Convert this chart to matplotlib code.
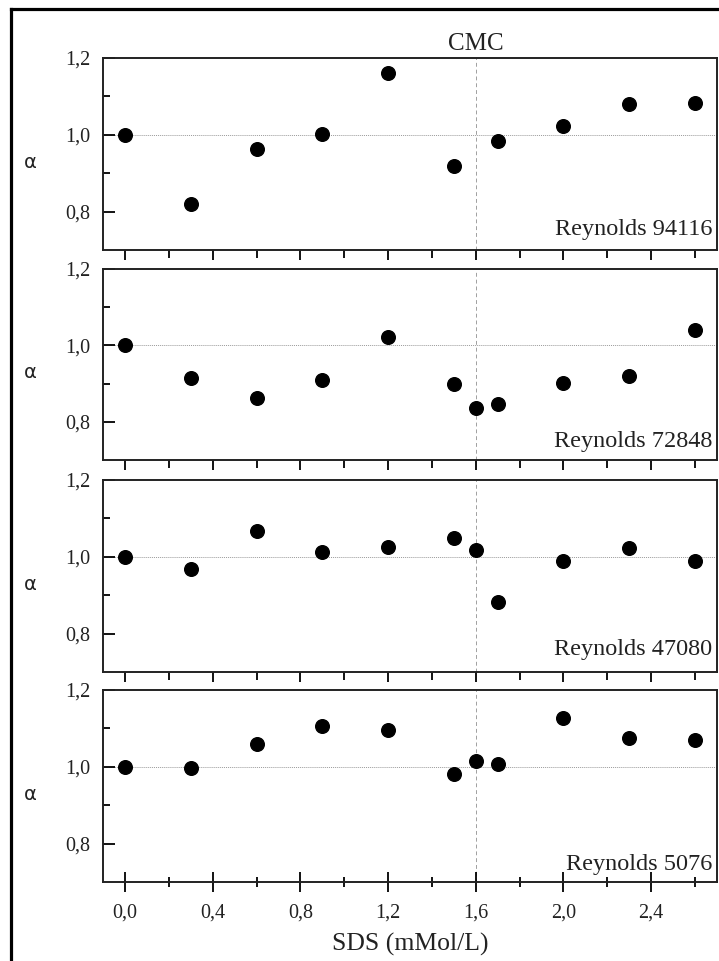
"""
Factor alfa frente a concentración de SDS, cuatro números de Reynolds
"""

import matplotlib.pyplot as plt
import numpy as np
from matplotlib.lines import Line2D

# concentraciones de SDS (mMol/L)
sds_a = [0.0, 0.3, 0.6, 0.9, 1.2, 1.5, 1.7, 2.0, 2.3, 2.6]
sds_b = [0.0, 0.3, 0.6, 0.9, 1.2, 1.5, 1.6, 1.7, 2.0, 2.3, 2.6]

# valores de alfa para cada Reynolds
alfa_94116 = [1.000, 0.821, 0.963, 1.002, 1.162, 0.919, 0.984, 1.024, 1.081, 1.084]
alfa_72848 = [1.000, 0.915, 0.863, 0.910, 1.023, 0.900, 0.837, 0.846, 0.901, 0.921, 1.041]
alfa_47080 = [1.000, 0.967, 1.066, 1.012, 1.025, 1.048, 1.019, 0.881, 0.990, 1.022, 0.988]
alfa_5076 = [1.000, 0.997, 1.060, 1.106, 1.097, 0.981, 1.015, 1.006, 1.128, 1.076, 1.069]

etiquetas = ['Reynolds 94116', 'Reynolds 72848', 'Reynolds 47080', 'Reynolds 5076']
cmc = 1.6

serif = 'Liberation Serif'
W, H = 719, 961

fig = plt.figure(figsize=(W / 100, H / 100), dpi=100)

# marco exterior (solo izquierda y arriba)
fig.add_artist(Line2D([11 / W, 11 / W], [0, 1 - 9 / H], color='black', lw=2.3,
                      transform=fig.transFigure, solid_capstyle='projecting'))
fig.add_artist(Line2D([11 / W, 1], [1 - 9 / H, 1 - 9 / H], color='black', lw=2.3,
                      transform=fig.transFigure, solid_capstyle='projecting'))

# posiciones de los paneles en pixeles (arriba, abajo)
paneles = [(58, 250), (269, 460), (480, 672), (690, 882)]
izq, der = 103, 717
# posicion de la etiqueta (fraccion de ejes, linea base)
pos_txt = [(0.992, 0.078), (0.992, 0.068), (0.992, 0.089), (0.992, 0.06)]

xs = [sds_a, sds_b, sds_b, sds_b]
ys = [alfa_94116, alfa_72848, alfa_47080, alfa_5076]

for i, (top, bot) in enumerate(paneles):
    ax = fig.add_axes([izq / W, 1 - bot / H, (der - izq) / W, (bot - top) / H])
    ax.axhline(1.0, color='#9a9a9a', lw=0.7, ls=(0, (1, 1)), zorder=1)
    ax.axvline(cmc, color='#a0a0a0', lw=0.7, ls=(0, (4, 3)), zorder=1)
    ax.plot(xs[i], ys[i], 'o', color='black', ms=9.8, zorder=3)

    ax.set_xlim(-0.1, 2.7)
    ax.set_ylim(0.7, 1.2)
    ax.set_xticks(np.arange(0, 2.5, 0.4))
    ax.set_xticks(np.arange(0.2, 2.7, 0.4), minor=True)
    ax.set_yticks([0.8, 1.0, 1.2])
    ax.set_yticks([0.9, 1.1], minor=True)
    ax.set_yticklabels(['0,8', '1,0', '1,2'], fontfamily=serif, fontsize=14.5, color='#222222')

    for s in ax.spines.values():
        s.set_linewidth(1.4)
        s.set_color('#222222')

    ax.tick_params(axis='y', which='major', direction='in', length=8.5, width=1.3, pad=9)
    ax.tick_params(axis='y', which='minor', direction='in', length=5, width=1.3)

    if i < 3:
        ax.tick_params(axis='x', which='major', direction='out', length=7.5, width=1.3,
                       labelbottom=False)
        ax.tick_params(axis='x', which='minor', direction='out', length=6, width=1.3)
    else:
        ax.tick_params(axis='x', which='major', direction='inout', length=14.5, width=1.3, pad=8)
        ax.tick_params(axis='x', which='minor', direction='inout', length=7.5, width=1.3)
        ax.set_xticklabels(['0,0', '0,4', '0,8', '1,2', '1,6', '2,0', '2,4'],
                           fontfamily=serif, fontsize=14.5, color='#222222')
        ax.set_xlabel('SDS (mMol/L)', fontfamily=serif, fontsize=18.5, color='#222222',
                      labelpad=8)

    ax.text(30 / W, 1 - (top + bot) / 2 / H - 8 / H, 'α', transform=fig.transFigure,
            fontsize=14, ha='center', va='center', color='#222222')
    ax.text(pos_txt[i][0], pos_txt[i][1], etiquetas[i], transform=ax.transAxes,
            fontfamily=serif, fontsize=17.5, ha='right', va='baseline', color='#222222')

    if i == 0:
        ax.text(cmc, 1.207, 'CMC', fontfamily=serif, fontsize=18, ha='center', va='bottom',
                color='#222222')

fig.savefig('out.png', dpi=100)
